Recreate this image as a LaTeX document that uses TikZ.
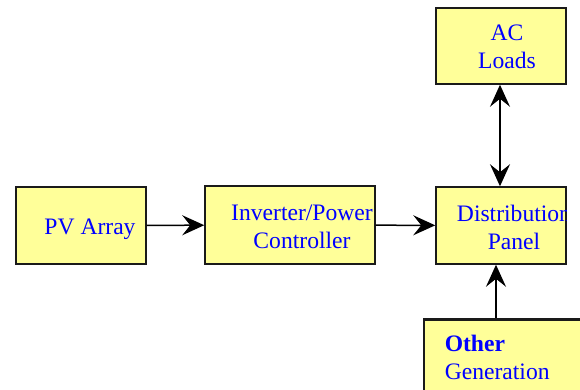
\documentclass[tikz,border=0pt]{standalone}
\usepackage{fontspec}
\setmainfont{Liberation Serif}
\usetikzlibrary{arrows.meta, positioning}
\definecolor{cyellow}{HTML}{FFFF99}
\definecolor{cblue}{HTML}{0000FF}
\definecolor{cframe}{HTML}{1A1A1A}
\tikzset{
  every picture/.style={line width=0.75pt},
  box/.style={draw=cframe, fill=cyellow, inner sep=0pt},
  txt/.style={text=cblue, font=\fontsize{11.8}{14}\selectfont, align=center, inner sep=0pt},
  arrow/.style={-{Stealth[length=11pt, width=10pt, inset=4pt]}, draw=black, line width=0.75pt},
  dblarrow/.style={{Stealth[length=11pt, width=10pt, inset=4pt]}-{Stealth[length=11pt, width=10pt, inset=4pt]}, draw=black, line width=0.75pt},
}

\begin{document}
\begin{tikzpicture}[x=0.5pt, y=-0.5pt]
  \useasboundingbox (0,0) rectangle (580,390);
  \node[box, minimum width=65pt, minimum height=38.5pt] (pv) at (81,225.5) {};
  \node[box, minimum width=85pt, minimum height=39pt] (inv) at (290,225) {};
  \node[box, minimum width=65pt, minimum height=38.5pt] (dist) at (501,225.5) {};
  \node[box, minimum width=65pt, minimum height=38pt] (ac) at (501,46) {};
  \node[box, line width=1.3pt, minimum width=88pt, minimum height=50pt] (other) at (512,369.5) {};
  \node[txt] (pvtxt) at (90,229) {PV Array};
  \node[txt] (invtxt) at (302,227) {Inverter/Power\\Controller};
  \begin{scope}
    \clip (dist.south west) rectangle (dist.north east);
    \node[txt] (disttxt) at (514,227) {Distribution\\Panel};
  \end{scope}
  \node[txt] (actxt) at (507,47) {AC\\Loads};
  \node[txt, align=left, anchor=west] (othertxt) at (444,357.5) {\textbf{Other}\\Generation};
  \draw[arrow] (pv) -- (inv);
  \draw[arrow] (inv) -- (dist);
  \draw[dblarrow] (dist.north -| 500,0) -- (ac.south -| 500,0);
  \draw[arrow] (other.north -| 496,0) -- (dist.south -| 496,0);
\end{tikzpicture}
\end{document}
